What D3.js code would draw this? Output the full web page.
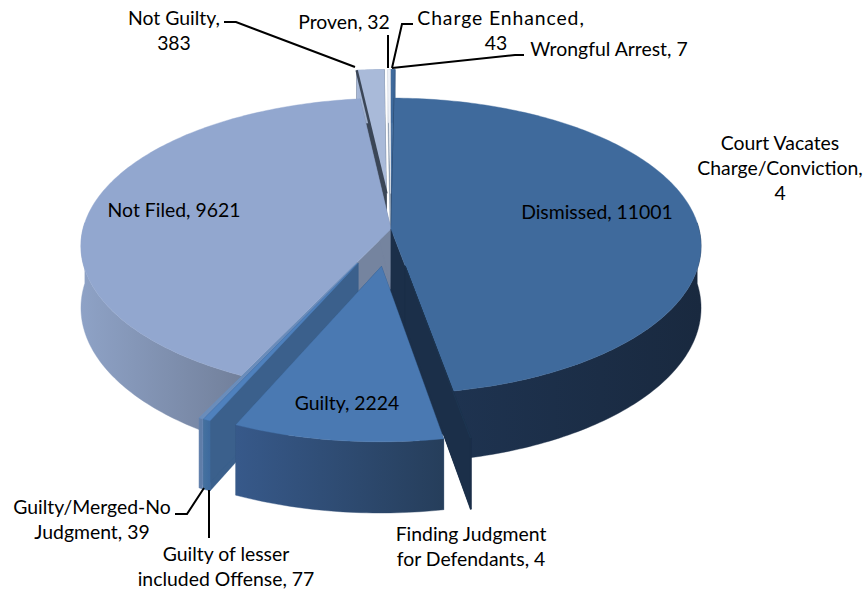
<!DOCTYPE html>
<html><head><meta charset="utf-8">
<script src="https://cdn.jsdelivr.net/npm/d3@7"></script>
<style>html,body{margin:0;padding:0;background:#fff}svg{display:block}text{font-family:Lato,"Open Sans",sans-serif;font-size:19.4px;fill:#000}</style>
</head><body><svg width="866" height="591"></svg>
<script>
const categories=["Dismissed","Court Vacates Charge/Conviction","Finding Judgment for Defendants","Guilty","Guilty of lesser included Offense","Guilty/Merged-No Judgment","Not Filed","Not Guilty","Proven","Charge Enhanced","Wrongful Arrest"];
const values=[11001,4,4,2224,77,39,9621,383,32,43,7];
const explode=[0,.25,.25,.25,.25,.25,0,.25,.25,.25,.25];
const topColors=["#3f6a9c","#1f3753","#1f3753","#4a79b2","#4f81bd","#6a8dbb","#92a7cf","#a9bad9","#eef1f7","#3f6a9c","#4a7ab3"];
const wallColors=["#1b2f49","#1b2f49","#1b2f49","#2f5078","#3b608c","#6f8fbf","#75849f","#3b4657","#8494aa","#2f5078","#2f5078"];
const sideLeft=["#1e3350","#1b2f49","#1b2f49","#37598a","#44719f","#5f7da8","#8ea2c6","#a9bad9","#eef1f7","#3f6a9c","#4a7ab3"];
const sideRight=["#19293f","#1b2f49","#1b2f49","#263e5b","#3e6a9e","#5f7da8","#72809b","#8a9ab4","#8494aa","#2f5078","#2f5078"];
const drawOrder=[10,9,8,7,6,0,1,2,5,4,3];
const labels=[
 {i:0,lines:["Dismissed, 11001"],x:597,y:219},
 {i:1,lines:["Court Vacates","Charge/Conviction,","4"],x:780,y:150},
 {i:2,lines:["Finding Judgment","for Defendants, 4"],x:471,y:541},
 {i:3,lines:["Guilty, 2224"],x:347,y:410},
 {i:4,lines:["Guilty of lesser","included Offense, 77"],x:226,y:561},
 {i:5,lines:["Guilty/Merged-No","Judgment, 39"],x:92,y:514},
 {i:6,lines:["Not Filed, 9621"],x:174,y:217},
 {i:7,lines:["Not Guilty,","383"],x:174,y:25},
 {i:8,lines:["Proven, 32"],x:344,y:29},
 {i:9,lines:["Charge Enhanced,"],x:501,y:25,spacing:.9},
 {i:9,lines:["43"],x:496,y:50},
 {i:10,lines:["Wrongful Arrest, 7"],x:609,y:56}];
const leaders=[
 [[224,22],[236,22],[355,67]],
 [[388,35],[388,68]],
 [[413,24],[402,24],[392,68]],
 [[524,55],[515,55],[392,68]],
 [[175,514],[187,514],[204,488]],
 [[209,490],[209,538]]];
const R=308,RB=146,K=.115,DEPTH=61,CX=391,CY=229,ROT=.7*Math.PI/180,NOT_GUILTY=7,GUILTY=3,DISMISSED=0;
const xS=d3.scaleLinear().domain([0,1]).range([CX,CX+R]);
const yS=d3.scaleLinear().domain([0,1]).range([CY,CY+RB]);
function proj(u,v,z){const w=1-K*v;return [xS(u/w),yS(v/w)+(z?DEPTH/w:0)];}
const arcs=d3.pie().sort(null).startAngle(ROT).endAngle(2*Math.PI+ROT).value(d=>d)(values);
const svg=d3.select("svg"),defs=svg.append("defs"),line=d3.line();
arcs.forEach((a,i)=>{a.idx=i;const m=(a.startAngle+a.endAngle)/2;a.ox=explode[i]*Math.sin(m);a.oy=-explode[i]*Math.cos(m);});
const P=(a,t,z,r=1)=>proj(a.ox+r*Math.sin(t),a.oy-r*Math.cos(t),z);
function arcPts(a,z){const n=Math.max(2,Math.ceil((a.endAngle-a.startAngle)*60));
 return d3.range(n+1).map(j=>P(a,a.startAngle+(a.endAngle-a.startAngle)*j/n,z));}
const shape=(pts,fill)=>svg.append("path").attr("d",line(pts)+"Z").attr("fill",fill).attr("stroke",fill).attr("stroke-width",.4);
const edge=(p,q,c,w)=>svg.append("path").attr("d",line([p,q])).attr("stroke",c).attr("stroke-width",w).attr("fill","none");
function slice(i){const a=arcs[i];
 const top=arcPts(a,false),bot=arcPts(a,true),ap=P(a,0,false,0),apb=P(a,0,true,0);
 shape([ap,P(a,a.startAngle,false),P(a,a.startAngle,true),apb],wallColors[i]);
 shape([ap,P(a,a.endAngle,false),P(a,a.endAngle,true),apb],wallColors[i]);
 const tv=[],bv=[];
 top.forEach((p,j)=>{const t=a.startAngle+(a.endAngle-a.startAngle)*j/(top.length-1);if(Math.cos(t)<0.05||i>=7){tv.push(p);bv.push(bot[j]);}});
 if(tv.length>1){
  const xs=tv.concat(bv).map(p=>p[0]),id="g"+i;
  const g=defs.append("linearGradient").attr("id",id).attr("gradientUnits","userSpaceOnUse")
   .attr("x1",d3.min(xs)).attr("x2",d3.max(xs)).attr("y1",0).attr("y2",0);
  g.append("stop").attr("offset",0).attr("stop-color",sideLeft[i]);
  g.append("stop").attr("offset",1).attr("stop-color",sideRight[i]);
  shape(tv.concat(bv.reverse()),`url(#${id})`);
 }
 // dark wall of Dismissed runs right up to the Guilty slice with no gap
 if(i===GUILTY) edge(P(a,a.startAngle,false,.15),P(a,a.startAngle,false,.98),wallColors[DISMISSED],5);
 shape([ap,...top],topColors[i]);
 // shaded edge of the Not Guilty slice stays visible beside Not Filed
 if(i===6){const ng=arcs[NOT_GUILTY];edge(P(ng,ng.startAngle,false),P(ng,0,false,0),wallColors[NOT_GUILTY],2.5);}
}
drawOrder.forEach(slice);
leaders.forEach(l=>svg.append("path").attr("d",line(l)).attr("fill","none").attr("stroke","#000").attr("stroke-width",2));
labels.forEach(l=>{const t=svg.append("text").attr("text-anchor","middle").attr("aria-label",categories[l.i]);
 if(l.spacing)t.style("letter-spacing",l.spacing+"px");
 l.lines.forEach((s,j)=>t.append("tspan").attr("x",l.x).attr("y",l.y+j*25).text(s));});
</script></body></html>
